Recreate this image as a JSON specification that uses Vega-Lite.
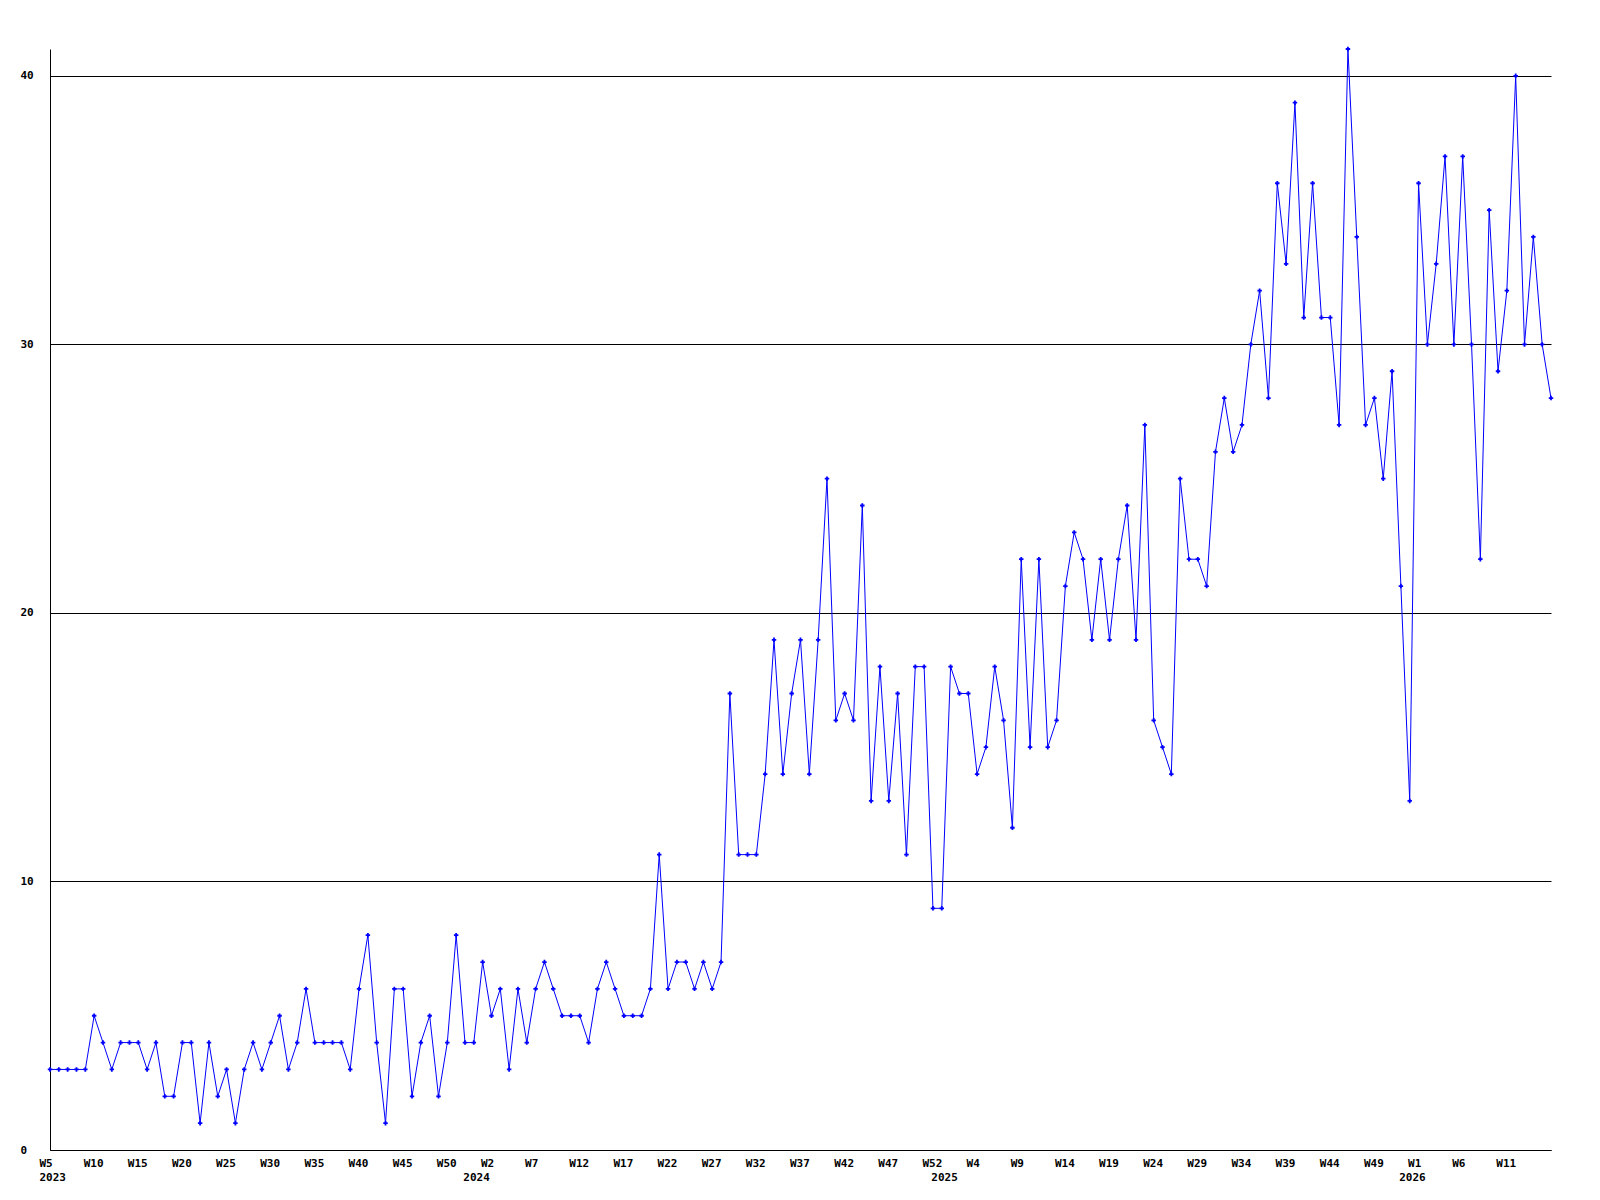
{
  "$schema": "https://vega.github.io/schema/vega-lite/v6.json",
  "width": 1501,
  "height": 1101,
  "autosize": {"type": "none"},
  "padding": {"left": 50, "top": 49, "right": 49, "bottom": 50},
  "background": "white",
  "config": {"view": {"stroke": null}},
  "data": {"values": [
    {"wk": "W5 2023", "n": 3}, {"wk": "W6 2023", "n": 3}, {"wk": "W7 2023", "n": 3}, {"wk": "W8 2023", "n": 3}, {"wk": "W9 2023", "n": 3},
    {"wk": "W10 2023", "n": 5}, {"wk": "W11 2023", "n": 4}, {"wk": "W12 2023", "n": 3}, {"wk": "W13 2023", "n": 4}, {"wk": "W14 2023", "n": 4},
    {"wk": "W15 2023", "n": 4}, {"wk": "W16 2023", "n": 3}, {"wk": "W17 2023", "n": 4}, {"wk": "W18 2023", "n": 2}, {"wk": "W19 2023", "n": 2},
    {"wk": "W20 2023", "n": 4}, {"wk": "W21 2023", "n": 4}, {"wk": "W22 2023", "n": 1}, {"wk": "W23 2023", "n": 4}, {"wk": "W24 2023", "n": 2},
    {"wk": "W25 2023", "n": 3}, {"wk": "W26 2023", "n": 1}, {"wk": "W27 2023", "n": 3}, {"wk": "W28 2023", "n": 4}, {"wk": "W29 2023", "n": 3},
    {"wk": "W30 2023", "n": 4}, {"wk": "W31 2023", "n": 5}, {"wk": "W32 2023", "n": 3}, {"wk": "W33 2023", "n": 4}, {"wk": "W34 2023", "n": 6},
    {"wk": "W35 2023", "n": 4}, {"wk": "W36 2023", "n": 4}, {"wk": "W37 2023", "n": 4}, {"wk": "W38 2023", "n": 4}, {"wk": "W39 2023", "n": 3},
    {"wk": "W40 2023", "n": 6}, {"wk": "W41 2023", "n": 8}, {"wk": "W42 2023", "n": 4}, {"wk": "W43 2023", "n": 1}, {"wk": "W44 2023", "n": 6},
    {"wk": "W45 2023", "n": 6}, {"wk": "W46 2023", "n": 2}, {"wk": "W47 2023", "n": 4}, {"wk": "W48 2023", "n": 5}, {"wk": "W49 2023", "n": 2},
    {"wk": "W50 2023", "n": 4}, {"wk": "W51 2023", "n": 8}, {"wk": "W52 2023", "n": 4},
    {"wk": "W0 2024", "n": 4},
    {"wk": "W1 2024", "n": 7}, {"wk": "W2 2024", "n": 5}, {"wk": "W3 2024", "n": 6}, {"wk": "W4 2024", "n": 3}, {"wk": "W5 2024", "n": 6},
    {"wk": "W6 2024", "n": 4}, {"wk": "W7 2024", "n": 6}, {"wk": "W8 2024", "n": 7}, {"wk": "W9 2024", "n": 6}, {"wk": "W10 2024", "n": 5},
    {"wk": "W11 2024", "n": 5}, {"wk": "W12 2024", "n": 5}, {"wk": "W13 2024", "n": 4}, {"wk": "W14 2024", "n": 6}, {"wk": "W15 2024", "n": 7},
    {"wk": "W16 2024", "n": 6}, {"wk": "W17 2024", "n": 5}, {"wk": "W18 2024", "n": 5}, {"wk": "W19 2024", "n": 5}, {"wk": "W20 2024", "n": 6},
    {"wk": "W21 2024", "n": 11}, {"wk": "W22 2024", "n": 6}, {"wk": "W23 2024", "n": 7}, {"wk": "W24 2024", "n": 7}, {"wk": "W25 2024", "n": 6},
    {"wk": "W26 2024", "n": 7}, {"wk": "W27 2024", "n": 6}, {"wk": "W28 2024", "n": 7}, {"wk": "W29 2024", "n": 17}, {"wk": "W30 2024", "n": 11},
    {"wk": "W31 2024", "n": 11}, {"wk": "W32 2024", "n": 11}, {"wk": "W33 2024", "n": 14}, {"wk": "W34 2024", "n": 19}, {"wk": "W35 2024", "n": 14},
    {"wk": "W36 2024", "n": 17}, {"wk": "W37 2024", "n": 19}, {"wk": "W38 2024", "n": 14}, {"wk": "W39 2024", "n": 19}, {"wk": "W40 2024", "n": 25},
    {"wk": "W41 2024", "n": 16}, {"wk": "W42 2024", "n": 17}, {"wk": "W43 2024", "n": 16}, {"wk": "W44 2024", "n": 24}, {"wk": "W45 2024", "n": 13},
    {"wk": "W46 2024", "n": 18}, {"wk": "W47 2024", "n": 13}, {"wk": "W48 2024", "n": 17}, {"wk": "W49 2024", "n": 11}, {"wk": "W50 2024", "n": 18},
    {"wk": "W51 2024", "n": 18}, {"wk": "W52 2024", "n": 9},
    {"wk": "W0 2025", "n": 9},
    {"wk": "W1 2025", "n": 18}, {"wk": "W2 2025", "n": 17}, {"wk": "W3 2025", "n": 17}, {"wk": "W4 2025", "n": 14}, {"wk": "W5 2025", "n": 15},
    {"wk": "W6 2025", "n": 18}, {"wk": "W7 2025", "n": 16}, {"wk": "W8 2025", "n": 12}, {"wk": "W9 2025", "n": 22}, {"wk": "W10 2025", "n": 15},
    {"wk": "W11 2025", "n": 22}, {"wk": "W12 2025", "n": 15}, {"wk": "W13 2025", "n": 16}, {"wk": "W14 2025", "n": 21}, {"wk": "W15 2025", "n": 23},
    {"wk": "W16 2025", "n": 22}, {"wk": "W17 2025", "n": 19}, {"wk": "W18 2025", "n": 22}, {"wk": "W19 2025", "n": 19}, {"wk": "W20 2025", "n": 22},
    {"wk": "W21 2025", "n": 24}, {"wk": "W22 2025", "n": 19}, {"wk": "W23 2025", "n": 27}, {"wk": "W24 2025", "n": 16}, {"wk": "W25 2025", "n": 15},
    {"wk": "W26 2025", "n": 14}, {"wk": "W27 2025", "n": 25}, {"wk": "W28 2025", "n": 22}, {"wk": "W29 2025", "n": 22}, {"wk": "W30 2025", "n": 21},
    {"wk": "W31 2025", "n": 26}, {"wk": "W32 2025", "n": 28}, {"wk": "W33 2025", "n": 26}, {"wk": "W34 2025", "n": 27}, {"wk": "W35 2025", "n": 30},
    {"wk": "W36 2025", "n": 32}, {"wk": "W37 2025", "n": 28}, {"wk": "W38 2025", "n": 36}, {"wk": "W39 2025", "n": 33}, {"wk": "W40 2025", "n": 39},
    {"wk": "W41 2025", "n": 31}, {"wk": "W42 2025", "n": 36}, {"wk": "W43 2025", "n": 31}, {"wk": "W44 2025", "n": 31}, {"wk": "W45 2025", "n": 27},
    {"wk": "W46 2025", "n": 41}, {"wk": "W47 2025", "n": 34}, {"wk": "W48 2025", "n": 27}, {"wk": "W49 2025", "n": 28}, {"wk": "W50 2025", "n": 25},
    {"wk": "W51 2025", "n": 29}, {"wk": "W52 2025", "n": 21},
    {"wk": "W0 2026", "n": 13},
    {"wk": "W1 2026", "n": 36}, {"wk": "W2 2026", "n": 30}, {"wk": "W3 2026", "n": 33}, {"wk": "W4 2026", "n": 37}, {"wk": "W5 2026", "n": 30},
    {"wk": "W6 2026", "n": 37}, {"wk": "W7 2026", "n": 30}, {"wk": "W8 2026", "n": 22}, {"wk": "W9 2026", "n": 35}, {"wk": "W10 2026", "n": 29},
    {"wk": "W11 2026", "n": 32}, {"wk": "W12 2026", "n": 40}, {"wk": "W13 2026", "n": 30}, {"wk": "W14 2026", "n": 34}, {"wk": "W15 2026", "n": 30},
    {"wk": "W16 2026", "n": 28}
  ]},
  "encoding": {
    "x": {
      "field": "wk", "type": "ordinal", "sort": null,
      "scale": {"type": "point", "padding": 0},
      "axis": {
        "title": null,
        "values": ["W5 2023","W10 2023","W15 2023","W20 2023","W25 2023","W30 2023","W35 2023","W40 2023","W45 2023","W50 2023",
                   "W0 2024","W2 2024","W7 2024","W12 2024","W17 2024","W22 2024","W27 2024","W32 2024","W37 2024","W42 2024","W47 2024","W52 2024",
                   "W0 2025","W4 2025","W9 2025","W14 2025","W19 2025","W24 2025","W29 2025","W34 2025","W39 2025","W44 2025","W49 2025",
                   "W0 2026","W1 2026","W6 2026","W11 2026"],
        "labelExpr": "datum.value == 'W5 2023' ? ['W5', '2023'] : (indexof(datum.value, 'W0 ') == 0 ? [' ', split(datum.value, ' ')[1]] : split(datum.value, ' ')[0])",
        "labelAngle": 0,
        "labelAlign": "left",
        "labelBaseline": "top",
        "labelOffset": -11,
        "labelPadding": 7,
        "labelLineHeight": 14.5,
        "labelOverlap": false,
        "labelBound": false,
        "labelFont": "DejaVu Sans Mono",
        "labelFontSize": 11,
        "labelFontWeight": "bold",
        "labelColor": "black",
        "ticks": false,
        "grid": false,
        "domainColor": "black",
        "domainWidth": 1
      }
    },
    "y": {
      "field": "n", "type": "quantitative",
      "scale": {"domain": [0, 41], "nice": false, "zero": true},
      "axis": {
        "title": null,
        "values": [0, 10, 20, 30, 40],
        "grid": true,
        "gridColor": "black",
        "gridOpacity": 1,
        "gridWidth": 1,
        "ticks": false,
        "domainColor": "black",
        "domainWidth": 1,
        "labelAlign": "left",
        "labelPadding": 30,
        "labelFont": "DejaVu Sans Mono",
        "labelFontSize": 11,
        "labelFontWeight": "bold",
        "labelColor": "black"
      }
    }
  },
  "layer": [
    {"mark": {"type": "line", "color": "#0000ff", "strokeWidth": 1}},
    {"mark": {"type": "point", "shape": "cross", "filled": true, "size": 20, "color": "#0000ff", "opacity": 1}}
  ]
}
